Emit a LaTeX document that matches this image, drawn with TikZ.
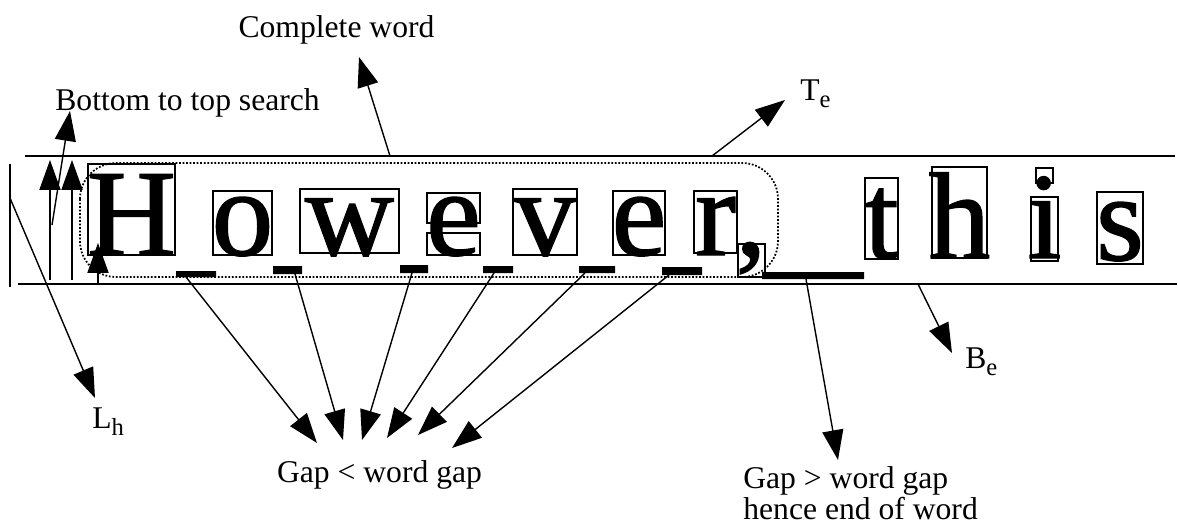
\documentclass[tikz,border=0pt]{standalone}
\usepackage{fontspec}
\setmainfont{Liberation Serif}
\newfontfamily\glyphfont[FakeBold=1.2]{Liberation Serif}
\usetikzlibrary{arrows.meta}
\newcommand{\lsub}[1]{\raisebox{-4pt}{\fontsize{14}{14}\selectfont #1}}

\begin{document}
\begin{tikzpicture}[x=0.02cm,y=-0.02cm,>={Triangle[length=17pt,width=12pt]},
  lbl/.style={font=\fontsize{18}{16}\selectfont,inner sep=0pt},
  glyph/.style={font=\glyphfont\fontsize{70}{70}\selectfont,inner sep=0pt,anchor=base},
  lbox/.style={draw,line width=0.6pt},
  gapbar/.style={fill=black},
  conn/.style={->,line width=0.8pt}]
\useasboundingbox(0,0)rectangle(1178,525);
% text line limits
\draw[line width=1.2pt](25,156)--(1175,156);
\draw[line width=1.4pt](18,284)--(1177,284);
\draw[line width=0.8pt](10,164)--(10,287);
% letters
\node[glyph](gH)at(131.5,255){H};
\node[glyph](go)at(242.5,255){o};
\node[glyph](gw)at(349.5,255){w};
\node[glyph](ge)at(453.5,255){e};
\node[glyph](gv)at(545,255){v};
\node[glyph](gee)at(639,255){e};
\node[glyph](gr)at(715.5,255){r};
\node[glyph](gc)at(751,255){,};
\node[glyph](gt)at(881.5,258){t};
\node[glyph](gh)at(959.5,258){h};
\node[glyph](gi)at(1044.5,258){i};
\node[glyph](gs)at(1120,260){s};
% boxes round the letters
\draw[lbox](88,164)rectangle(175,255)
(213,191)rectangle(272,255)
(300,189)rectangle(399,253)
(427,193)rectangle(480,223)
(427,233)rectangle(480,255)
(513,189)rectangle(577,255)
(613,191)rectangle(665,255)
(694,191)rectangle(737,253)
(738,244)rectangle(765,277)
(865,178)rectangle(898,259)
(932,167)rectangle(987,258)
(1036,168)rectangle(1053,183)
(1031,197)rectangle(1058,261)
(1097,192)rectangle(1143,264);
% gaps
\fill[gapbar](176,271)rectangle(216,277)
(273,266)rectangle(302,274)
(400,265)rectangle(428,273)
(483,266)rectangle(513,273)
(579,266)rectangle(615,273)
(662,267)rectangle(702,275)
(762,272)rectangle(864,279);
% word outline
\draw[densely dotted,line width=1pt,rounded corners=0.72cm](80,163)rectangle(778,277);
% labels
\node[lbl,anchor=base](cw)at(336.5,37){Complete word};
\node[lbl,anchor=base west](bts)at(55,110){Bottom to top search};
\node[lbl,anchor=base west](te)at(800,100){T\lsub{e}};
\node[lbl,anchor=base west](be)at(965,368){B\lsub{e}};
\node[lbl,anchor=base west](lh)at(92,428){L\lsub{h}};
\node[lbl,anchor=base](gl)at(379.5,482){Gap < word gap};
\node[lbl,anchor=north west,align=left](gg)at(743,466){Gap > word gap\\hence end of word};
% arrow ends
\coordinate(cwS)at(390,156); \coordinate(cwT)at(359,57);
\coordinate(btsS)at(52,225); \coordinate(btsT)at(70,111);
\coordinate(teS)at(712,156); \coordinate(teT)at(785,100);
\coordinate(beS)at(918,284); \coordinate(beT)at(952,353);
\coordinate(lhS)at(10,198); \coordinate(lhT)at(95,398);
\coordinate(up1S)at(50,280); \coordinate(up1T)at(50,160);
\coordinate(up2S)at(72,280); \coordinate(up2T)at(72,160);
\coordinate(up3S)at(98,284); \coordinate(up3T)at(98,243);
\coordinate(g1S)at(186,277); \coordinate(g1T)at(317,443);
\coordinate(g2S)at(295,274); \coordinate(g2T)at(343,440);
\coordinate(g3S)at(412,273); \coordinate(g3T)at(362,440);
\coordinate(g4S)at(494,273); \coordinate(g4T)at(387,438);
\coordinate(g5S)at(585,273); \coordinate(g5T)at(418,435);
\coordinate(g6S)at(669,275); \coordinate(g6T)at(452,448);
\coordinate(g7S)at(806,279); \coordinate(g7T)at(838,460);
% arrows
\draw[conn](cwS)--(cwT);
\draw[conn](btsS)--(btsT);
\draw[conn](teS)--(teT);
\draw[conn](beS)--(beT);
\draw[conn](lhS)--(lhT);
\draw[conn](up1S)--(up1T);
\draw[conn](up2S)--(up2T);
\draw[conn](up3S)--(up3T);
\draw[conn](g1S)--(g1T);
\draw[conn](g2S)--(g2T);
\draw[conn](g3S)--(g3T);
\draw[conn](g4S)--(g4T);
\draw[conn](g5S)--(g5T);
\draw[conn](g6S)--(g6T);
\draw[conn](g7S)--(g7T);
\end{tikzpicture}
\end{document}
